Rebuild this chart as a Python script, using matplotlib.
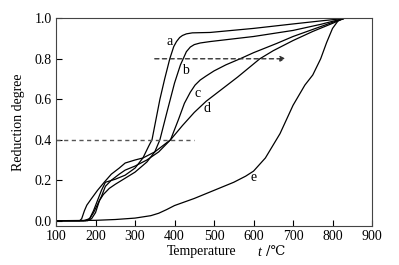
import matplotlib
matplotlib.use("Agg")
import matplotlib.pyplot as plt

plt.rcParams['font.family'] = ['Liberation Serif', 'DejaVu Serif']

# curves (temperature in C, reduction degree)
t_a = [100, 170, 185, 195, 205, 215, 225, 250, 275, 300, 320, 335, 343, 353, 363, 375, 388, 398, 405, 413, 420, 430, 445, 490, 600, 700, 770, 810, 830, 900]
r_a = [0, 0, 0.01, 0.05, 0.10, 0.15, 0.19, 0.205, 0.225, 0.26, 0.31, 0.37, 0.40, 0.50, 0.60, 0.70, 0.80, 0.86, 0.885, 0.905, 0.915, 0.923, 0.928, 0.93, 0.95, 0.972, 0.987, 0.995, 1.0, 1.0]

t_b = [100, 180, 190, 200, 210, 220, 235, 250, 275, 300, 330, 350, 363, 380, 400, 415, 422, 430, 440, 450, 465, 490, 600, 700, 770, 810, 830, 900]
r_b = [0, 0, 0.01, 0.04, 0.10, 0.13, 0.16, 0.18, 0.21, 0.24, 0.29, 0.34, 0.40, 0.53, 0.68, 0.77, 0.80, 0.835, 0.858, 0.87, 0.878, 0.885, 0.91, 0.94, 0.97, 0.99, 1.0, 1.0]

t_c = [100, 175, 185, 195, 205, 215, 225, 240, 260, 275, 300, 330, 360, 390, 410, 425, 440, 452, 465, 480, 500, 530, 566, 600, 659, 700, 750, 800, 830, 900]
r_c = [0, 0, 0.01, 0.04, 0.08, 0.12, 0.17, 0.20, 0.23, 0.25, 0.27, 0.30, 0.34, 0.40, 0.50, 0.58, 0.635, 0.67, 0.695, 0.715, 0.74, 0.77, 0.80, 0.83, 0.876, 0.91, 0.945, 0.98, 1.0, 1.0]

t_d = [100, 160, 165, 172, 178, 190, 205, 222, 240, 260, 275, 300, 320, 350, 370, 390, 420, 450, 480, 520, 560, 616, 650, 700, 750, 800, 830, 900]
r_d = [0, 0, 0.01, 0.05, 0.077, 0.11, 0.15, 0.19, 0.23, 0.26, 0.285, 0.30, 0.31, 0.34, 0.37, 0.40, 0.47, 0.535, 0.59, 0.65, 0.71, 0.80, 0.84, 0.89, 0.935, 0.975, 1.0, 1.0]

t_e = [100, 200, 250, 300, 340, 360, 380, 400, 450, 500, 550, 580, 600, 630, 667, 700, 730, 750, 770, 785, 800, 815, 830, 900]
r_e = [0, 0.002, 0.006, 0.013, 0.025, 0.037, 0.055, 0.075, 0.11, 0.15, 0.19, 0.22, 0.245, 0.31, 0.43, 0.57, 0.67, 0.72, 0.80, 0.88, 0.95, 0.99, 1.0, 1.0]

curves = [(t_a, r_a), (t_b, r_b), (t_c, r_c), (t_d, r_d), (t_e, r_e)]
labels = ['a', 'b', 'c', 'd', 'e']
label_pos = [(387, 0.884), (428, 0.74), (458, 0.63), (481, 0.555), (601, 0.214)]

fig = plt.figure(figsize=(3.99, 2.65), dpi=100)
ax = fig.add_axes([0.1404, 0.1472, 0.7920, 0.7838])

for t, r in curves:
    ax.plot(t, r, color='black', lw=0.9)

for lab, (x, y) in zip(labels, label_pos):
    ax.text(x, y, lab, fontsize=10, ha='center', va='center')

# guide lines
ax.plot([100, 450], [0.4, 0.4], color='#555555', lw=1.0, ls=(0, (3, 2.5)))
ax.annotate('', xy=(682, 0.8), xytext=(350, 0.8),
            arrowprops=dict(arrowstyle='-|>', color='#333333', lw=1.0,
                            ls=(0, (3, 2.5)), mutation_scale=8,
                            shrinkA=0, shrinkB=0))

ax.set_xlim(100, 900)
ax.set_ylim(-0.026, 1.0)
ax.set_xticks([100, 200, 300, 400, 500, 600, 700, 800, 900])
ax.set_yticks([0.0, 0.2, 0.4, 0.6, 0.8, 1.0])
ax.set_yticklabels(['0.0', '0.2', '0.4', '0.6', '0.8', '1.0'])
ax.tick_params(direction='in', length=4, width=0.8, labelsize=10, pad=3)
for s in ax.spines.values():
    s.set_linewidth(0.8)
    s.set_color('#444444')

# x label in pieces so the italic t and the degree sign both render
fig.text(167 / 399, 1 - 252 / 265, 'Temperature', fontsize=10, ha='left', va='center')
fig.text(257 / 399, 1 - 252 / 265, 't', fontsize=10, style='italic', ha='left', va='center')
fig.text(266 / 399, 1 - 252 / 265, '/\u2103', fontsize=9.5, ha='left', va='center',
         family=['DejaVu Serif'])
ax.set_ylabel('Reduction degree', fontsize=10)
ax.yaxis.set_label_coords(-0.098, 0.5)

fig.savefig('out.png', dpi=100)
